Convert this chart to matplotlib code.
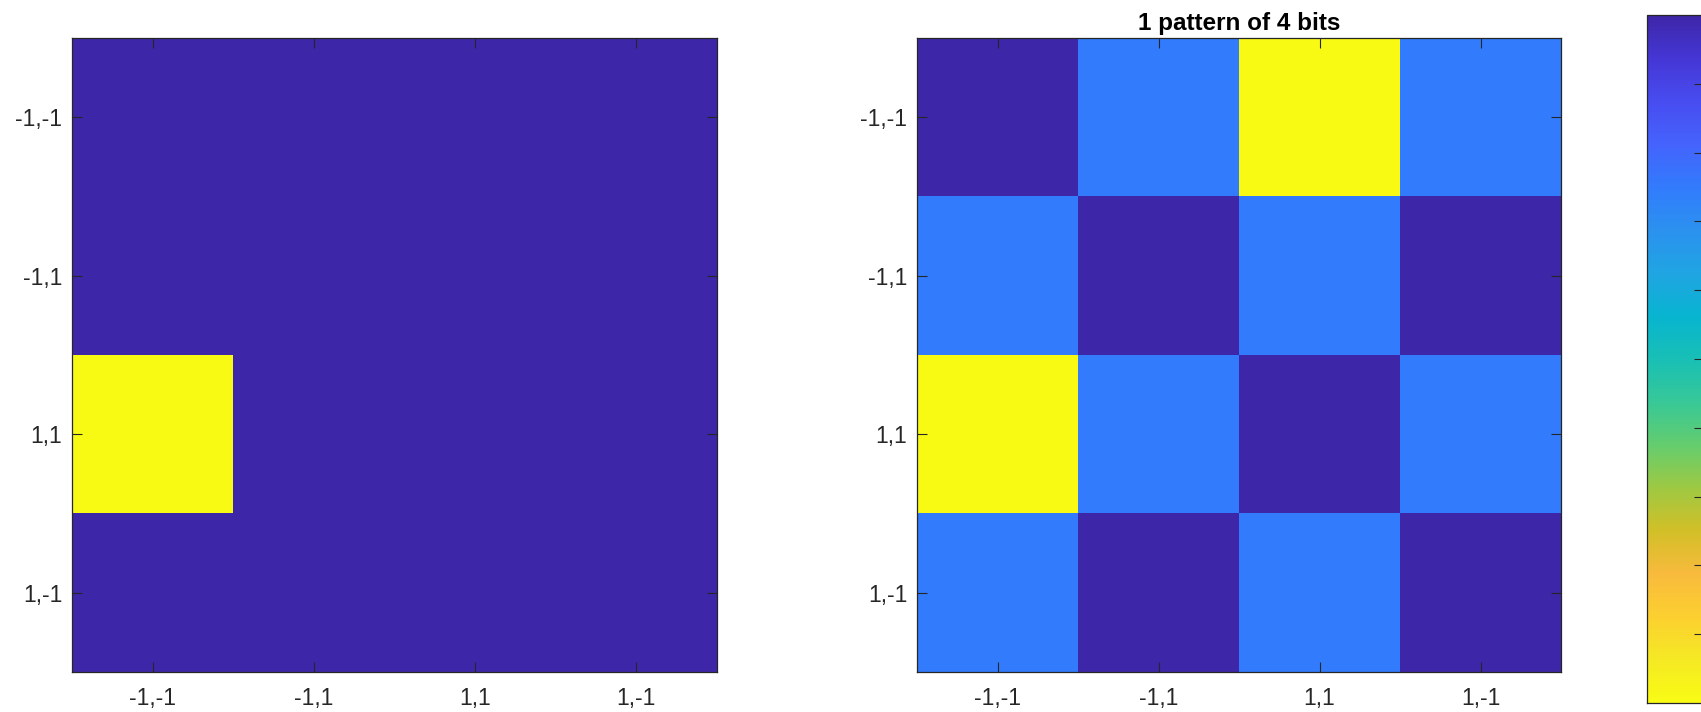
import numpy as np
import matplotlib
matplotlib.use("Agg")
import matplotlib.pyplot as plt
from matplotlib.colors import LinearSegmentedColormap

# Labels of the four 2-bit states
state_labels = ["-1,-1", "-1,1", "1,1", "1,-1"]

# Left panel: the stored pattern
pattern_map = [
    [0, 0, 0, 0],
    [0, 0, 0, 0],
    [1, 0, 0, 0],
    [0, 0, 0, 0],
]

# Right panel: resulting weight map
weight_map = [
    [0, 1, 4, 1],
    [1, 0, 1, 0],
    [4, 1, 0, 1],
    [1, 0, 1, 0],
]

right_title = "1 pattern of 4 bits"
colorbar_ticks = [0.1, 0.2, 0.3, 0.4, 0.5, 0.6, 0.7, 0.8, 0.9]

# Parula-like colormap anchors
parula_anchors = [
    (0.2422, 0.1504, 0.6603), (0.2706, 0.2147, 0.8364), (0.2813, 0.3006, 0.9414),
    (0.2699, 0.3892, 0.9906), (0.1963, 0.4847, 0.9892), (0.1687, 0.5703, 0.9359),
    (0.1248, 0.6459, 0.8883), (0.0297, 0.7082, 0.8163), (0.0964, 0.7500, 0.7120),
    (0.2161, 0.7843, 0.5923), (0.3909, 0.8029, 0.4354), (0.6174, 0.7876, 0.2612),
    (0.8203, 0.7498, 0.1535), (0.9728, 0.7298, 0.2394), (0.9892, 0.8136, 0.1885),
    (0.9597, 0.9135, 0.1423), (0.9769, 0.9839, 0.0805),
]
parula = LinearSegmentedColormap.from_list("parula", parula_anchors, N=256)

plt.rcParams["font.family"] = ["Liberation Sans", "DejaVu Sans"]
TEXT = "#262626"

W, H = 1701, 712
fig = plt.figure(figsize=(W / 100, H / 100), dpi=100)


def box(x0, y0, x1, y1):
    return [x0 / W, 1 - y1 / H, (x1 - x0) / W, (y1 - y0) / H]


def style_axes(ax):
    n = len(state_labels)
    ax.set_xticks(range(n))
    ax.set_yticks(range(n))
    ax.set_xticklabels(state_labels)
    ax.set_yticklabels(state_labels)
    ax.tick_params(axis="both", direction="in", length=7, width=0.8,
                   top=True, right=True, colors=TEXT, labelsize=16.5,
                   labelcolor=TEXT)
    ax.tick_params(axis="x", pad=11)
    ax.tick_params(axis="y", pad=7)
    for s in ax.spines.values():
        s.set_color(TEXT)
        s.set_linewidth(0.9)


ax1 = fig.add_axes(box(72, 38, 717, 672))
ax1.imshow(np.array(pattern_map), cmap=parula, vmin=0, vmax=1,
           aspect="auto", interpolation="nearest")
style_axes(ax1)

ax2 = fig.add_axes(box(917, 38, 1561, 672))
ax2.imshow(np.array(weight_map), cmap=parula, vmin=0, vmax=4,
           aspect="auto", interpolation="nearest")
style_axes(ax2)
ax2.set_title(right_title, fontsize=17.5, fontweight="bold", color="black", pad=6)

# Colorbar, running from dark blue at the top to yellow at the bottom
cax = fig.add_axes(box(1647, 15, 1705, 703))
sm = matplotlib.cm.ScalarMappable(cmap=parula, norm=matplotlib.colors.Normalize(0, 1))
cb = fig.colorbar(sm, cax=cax)
cax.invert_yaxis()
cb.set_ticks(colorbar_ticks)
cb.set_ticklabels([])
cax.tick_params(direction="in", length=8, width=0.8, colors=TEXT, right=True)
cb.outline.set_edgecolor(TEXT)
cb.outline.set_linewidth(0.9)

fig.savefig("out.png", dpi=100)
